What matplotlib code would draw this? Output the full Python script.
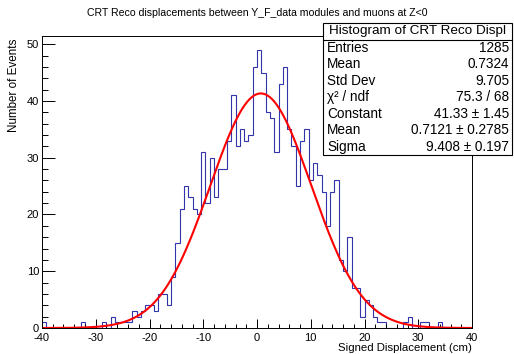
import matplotlib
matplotlib.use("Agg")
import matplotlib.pyplot as plt
from matplotlib.patches import Rectangle
from matplotlib.lines import Line2D
from matplotlib.ticker import MultipleLocator
import numpy as np

plt.rcParams["font.family"] = ["Liberation Sans", "DejaVu Sans"]
plt.rcParams["axes.unicode_minus"] = False

# histogram: 100 bins from -40 to 40 cm
x_min, x_max = -40.0, 40.0
counts = [
    1, 0, 0, 0, 0, 0, 0, 0, 0, 1,
    0, 0, 0, 0, 1, 0, 2, 1, 1, 1,
    1, 3, 2, 3, 4, 4, 3, 6, 6, 4,
    9, 15, 21, 25, 23, 21, 20, 31, 22, 30,
    23, 28, 28, 33, 41, 32, 35, 33, 34, 46,
    49, 45, 38, 37, 31, 43, 46, 35, 32, 25,
    33, 35, 26, 29, 27, 24, 18, 24, 26, 12,
    10, 16, 7, 7, 2, 5, 4, 2, 1, 1,
    0, 0, 0, 0, 1, 2, 0, 0, 1, 1,
    0, 0, 1, 0, 0, 0, 0, 0, 0, 0,
]

# gaussian fit result
fit_constant = 41.33
fit_mean = 0.7121
fit_sigma = 9.408

title = "CRT Reco displacements between Y_F_data modules and muons at Z<0"
x_label = "Signed Displacement (cm)"
y_label = "Number of Events"

stats_title = "Histogram of CRT Reco Displ"
stats_labels = ["Entries", "Mean", "Std Dev", "χ² / ndf", "Constant", "Mean", "Sigma"]
stats_values = ["1285", "0.7324", "9.705", "75.3 / 68",
                "41.33 ± 1.45", "0.7121 ± 0.2785", "9.408 ± 0.197"]

W, H = 514, 354
fig = plt.figure(figsize=(W / 100, H / 100), dpi=100)
ax = fig.add_axes([42 / W, 26 / H, 430 / W, 292 / H])

edges = np.linspace(x_min, x_max, len(counts) + 1)
ax.stairs(counts, edges, color="#3333aa", linewidth=0.8)

xs = np.linspace(x_min, x_max, 600)
ax.plot(xs, fit_constant * np.exp(-0.5 * ((xs - fit_mean) / fit_sigma) ** 2),
        color="#ff0000", linewidth=1.5)

ax.set_xlim(x_min, x_max)
ax.set_ylim(0, max(counts) * 1.05)

ax.xaxis.set_major_locator(MultipleLocator(10))
ax.xaxis.set_minor_locator(MultipleLocator(2))
ax.yaxis.set_major_locator(MultipleLocator(10))
ax.yaxis.set_minor_locator(MultipleLocator(2))
ax.tick_params(axis="both", which="both", direction="in", width=0.7,
               top=False, right=False, labelsize=8)
ax.tick_params(axis="x", which="major", length=6.3, pad=3.5)
ax.tick_params(axis="x", which="minor", length=3.2)
ax.tick_params(axis="y", which="major", length=9.3, pad=2)
ax.tick_params(axis="y", which="minor", length=4.6)
for spine in ax.spines.values():
    spine.set_linewidth(0.7)

fig.text(257 / W, 1 - 13 / H, title, ha="center", va="center", fontsize=7.6)
fig.text(472 / W, 1 - 348 / H, x_label, ha="right", va="center", fontsize=8.2)
fig.text(14 / W, 1 - 39 / H, y_label, ha="center", va="top", rotation=90, fontsize=8.4)

# stats box
box_l, box_r, box_t, box_b = 323, 512, 23, 155
row_h = (box_b - box_t) / (len(stats_labels) + 1)
fig.patches.append(Rectangle((box_l / W, 1 - box_b / H), (box_r - box_l) / W,
                             (box_b - box_t) / H, transform=fig.transFigure,
                             facecolor="white", edgecolor="black", linewidth=0.8,
                             zorder=5))
sep_y = 1 - (box_t + row_h) / H
fig.lines.append(Line2D([box_l / W, box_r / W], [sep_y, sep_y],
                        transform=fig.transFigure, color="black", linewidth=0.8,
                        zorder=6))
fig.text((box_l + box_r) / 2 / W, 1 - (box_t + row_h / 2) / H, stats_title,
         ha="center", va="center", fontsize=9.7, zorder=7)
for i, (lab, val) in enumerate(zip(stats_labels, stats_values)):
    yc = 1 - (box_t + row_h * (i + 1.5)) / H
    fig.text(327 / W, yc, lab, ha="left", va="center", fontsize=9.8, zorder=7)
    fig.text(509 / W, yc, val, ha="right", va="center", fontsize=9.8, zorder=7)

fig.savefig("out.png", dpi=100)
